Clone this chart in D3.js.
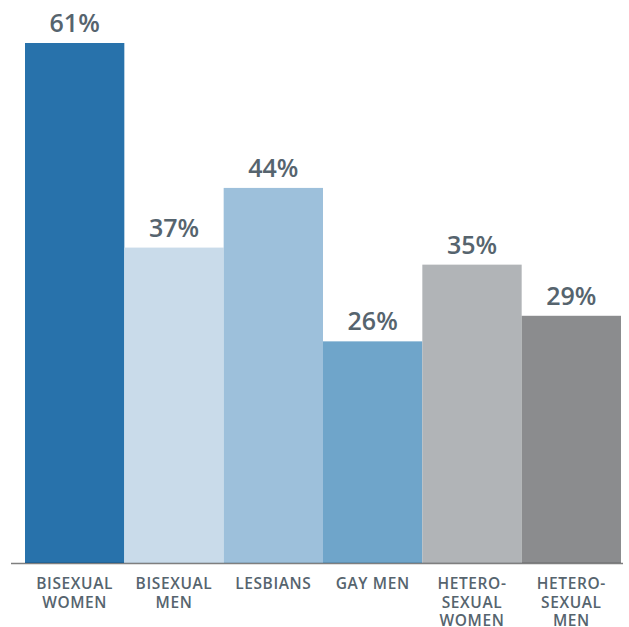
<!DOCTYPE html>
<html><head><meta charset="utf-8">
<script src="https://cdn.jsdelivr.net/npm/d3@7"></script>
<style>body{margin:0;background:#fff}svg{display:block}</style>
</head><body>
<script>
const categories = [["BISEXUAL","WOMEN"],["BISEXUAL","MEN"],["LESBIANS"],["GAY MEN"],["HETERO-","SEXUAL","WOMEN"],["HETERO-","SEXUAL","MEN"]];
const values = [61, 37, 44, 26, 35, 29];
const colors = ["#2872ab","#c9dbea","#9dc0db","#6fa5ca","#b1b4b7","#8b8c8e"];

const W = 629, H = 627;
const svg = d3.select("body").append("svg").attr("width", W).attr("height", H);
const x = d3.scaleBand().domain(d3.range(values.length)).range([25, 621]).padding(0);
const y = d3.scaleLinear().domain([0, 61]).range([563, 43]);
const textColor = "#56646e";

svg.selectAll("rect.bar").data(values).join("rect").attr("class","bar")
  .attr("x", (d,i) => x(i)).attr("width", x.bandwidth())
  .attr("y", d => y(d)).attr("height", d => y(0) - y(d))
  .attr("fill", (d,i) => colors[i]);

svg.append("line").attr("x1", 11).attr("x2", 623).attr("y1", 563.5).attr("y2", 563.5)
  .attr("stroke", "#000").attr("stroke-opacity", 0.5).attr("stroke-width", 1.5);

svg.selectAll("text.val").data(values).join("text").attr("class","val")
  .attr("x", (d,i) => x(i) + x.bandwidth()/2).attr("y", d => y(d) - 11)
  .attr("text-anchor","middle").attr("fill", textColor)
  .style("font-family","'Open Sans', sans-serif").style("font-weight", 600).style("font-size","25px")
  .text(d => d + "%");

const lab = svg.selectAll("text.cat").data(categories).join("text").attr("class","cat")
  .attr("text-anchor","middle").attr("fill", textColor)
  .style("font-family","'Open Sans', sans-serif").style("font-weight", 600).style("font-size","15.5px")
  .style("letter-spacing","0.6px");
lab.each(function(lines, i){
  const t = d3.select(this);
  lines.forEach((l, j) => {
    t.append("tspan").attr("x", x(i) + x.bandwidth()/2).attr("y", 589 + j*18.5).text(l);
  });
});
</script>
</body></html>
